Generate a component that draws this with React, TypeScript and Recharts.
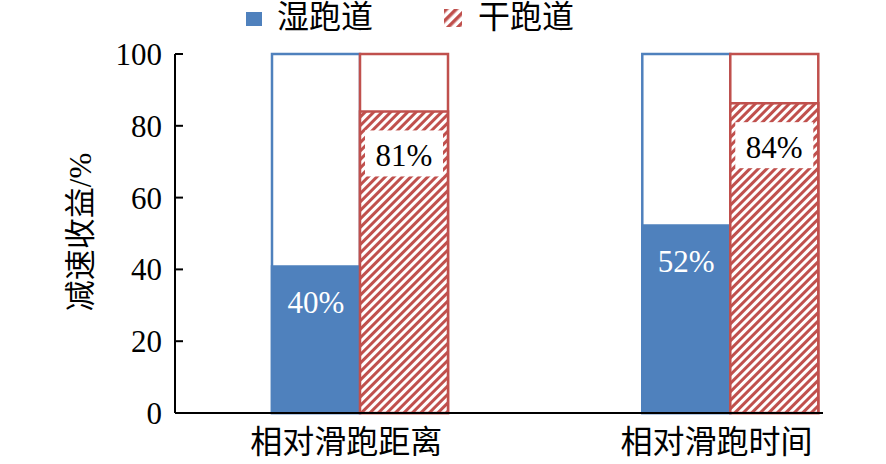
import { BarChart, Bar, XAxis, YAxis, LabelList, Label } from "recharts";

const categories = ["相对滑跑距离", "相对滑跑时间"];
const seriesNames = ["湿跑道", "干跑道"];
const wetValues = [40.8, 52.2];
const dryValues = [84, 86.3];
const wetLabels = ["40%", "52%"];
const dryLabels = ["81%", "84%"];
const yTicks = [0, 20, 40, 60, 80, 100];

const BLUE = "#4F81BD";
const RED = "#C0504D";
const FONT = '"Liberation Serif", "Noto Sans CJK SC", serif';

// categories sit at 1 and 3 on a numeric axis so the groups land where the original has them
const catPos = categories.map((_, i) => 1 + 2 * i);

const data = categories.map((name, i) => ({
  name,
  pos: catPos[i],
  wet: wetValues[i],
  dry: dryValues[i],
  wetLabel: wetLabels[i],
  dryLabel: dryLabels[i],
}));

const WetLabel = (props: any) => {
  const { x, y, width, value } = props;
  return (
    <text
      x={x + width / 2}
      y={y + 36}
      textAnchor="middle"
      dominantBaseline="central"
      fill="#fff"
      style={{ fontFamily: FONT, fontSize: 31 }}
    >
      {value}
    </text>
  );
};

const DryLabel = (props: any) => {
  const { x, y, width, value } = props;
  return (
    <g>
      <rect x={x + 5} y={y + 19} width={width - 10} height={46} fill="#fff" />
      <text
        x={x + width / 2}
        y={y + 44}
        textAnchor="middle"
        dominantBaseline="central"
        fill="#000"
        style={{ fontFamily: FONT, fontSize: 31 }}
      >
        {value}
      </text>
    </g>
  );
};

const LegendRow = () => (
  <div
    style={{
      position: "absolute",
      left: 0,
      top: 0,
      width: 886,
      height: 40,
      fontFamily: FONT,
      fontSize: 32,
      lineHeight: "32px",
      color: "#000",
    }}
  >
    <div style={{ position: "absolute", left: 246, top: 12, width: 16, height: 14, background: BLUE }} />
    <div style={{ position: "absolute", left: 277, top: 1, whiteSpace: "nowrap" }}>{seriesNames[0]}</div>
    <svg style={{ position: "absolute", left: 444, top: 9 }} width={18} height={18}>
      <defs>
        <pattern id="hatchIcon" patternUnits="userSpaceOnUse" width={7} height={7} patternTransform="rotate(45)">
          <rect width={7} height={7} fill="#fff" />
          <rect width={3.5} height={7} fill={RED} />
        </pattern>
      </defs>
      <rect x={0} y={0} width={18} height={18} fill="url(#hatchIcon)" />
    </svg>
    <div style={{ position: "absolute", left: 478, top: 1, whiteSpace: "nowrap" }}>{seriesNames[1]}</div>
  </div>
);

const App = () => {
  return (
    <div style={{ position: "absolute", left: 0, top: 0, width: 886, height: 464, background: "#fff" }}>
      <BarChart
        width={886}
        height={464}
        data={data}
        margin={{ top: 54, right: 63, bottom: 0, left: 0 }}
        barGap={0}
        barSize={88}
      >
        <defs>
          <pattern id="hatch" patternUnits="userSpaceOnUse" width={6} height={6} patternTransform="rotate(45)">
            <rect width={6} height={6} fill="#fff" />
            <rect width={3} height={6} fill={RED} />
          </pattern>
        </defs>
        <XAxis
          type="number"
          dataKey="pos"
          domain={[0, 3.5]}
          ticks={catPos}
          tickFormatter={(v: number) => categories[catPos.indexOf(v)]}
          height={51}
          tickSize={0}
          tickMargin={17}
          tickLine={false}
          axisLine={{ stroke: "#000", strokeWidth: 2 }}
          tick={{ fill: "#000", fontSize: 32, fontFamily: FONT, dx: -14 }}
          allowDataOverflow
        />
        <YAxis
          domain={[0, 100]}
          ticks={yTicks}
          width={175}
          tickSize={-8}
          tickMargin={21}
          axisLine={{ stroke: "#000", strokeWidth: 2 }}
          tickLine={{ stroke: "#000", strokeWidth: 2 }}
          tick={{ fill: "#000", fontSize: 31, fontFamily: FONT }}
        >
          <Label
            content={() => (
              <text
                x={80}
                y={232}
                transform="rotate(-90 80 232)"
                textAnchor="middle"
                dominantBaseline="central"
                fill="#000"
                style={{ fontFamily: FONT, fontSize: 31 }}
              >
                减速收益/%
              </text>
            )}
          />
        </YAxis>
        <Bar
          dataKey="wet"
          fill={BLUE}
          stroke={BLUE}
          strokeWidth={2.5}
          background={{ fill: "#fff", stroke: BLUE, strokeWidth: 2.5 }}
          isAnimationActive={false}
        >
          <LabelList dataKey="wetLabel" content={WetLabel} />
        </Bar>
        <Bar
          dataKey="dry"
          fill="url(#hatch)"
          stroke={RED}
          strokeWidth={2.5}
          background={{ fill: "#fff", stroke: RED, strokeWidth: 2.5 }}
          isAnimationActive={false}
        >
          <LabelList dataKey="dryLabel" content={DryLabel} />
        </Bar>
      </BarChart>
      <LegendRow />
    </div>
  );
};

export default App;
